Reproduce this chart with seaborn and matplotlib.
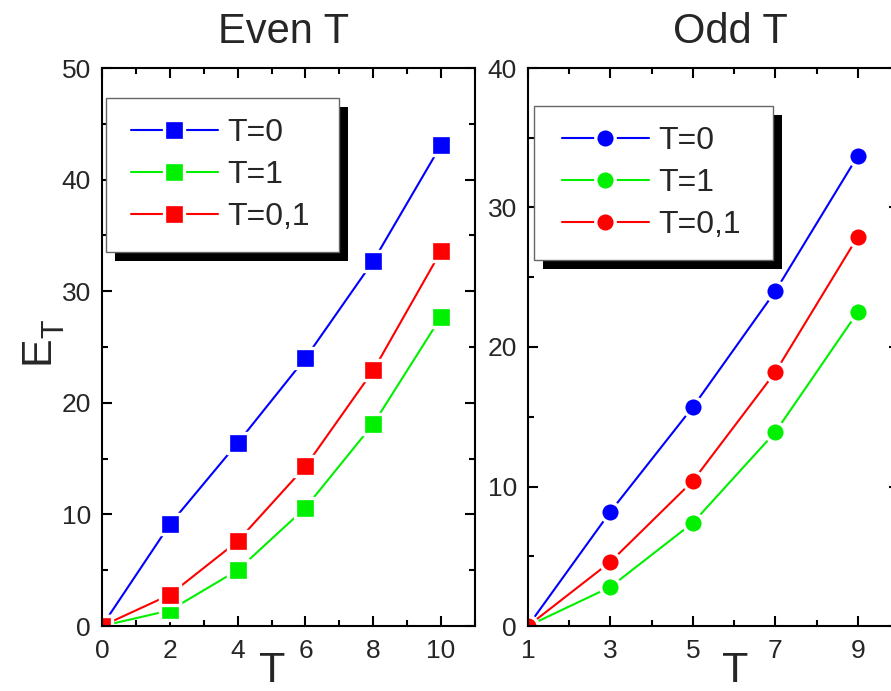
import matplotlib
matplotlib.use("Agg")
import matplotlib.pyplot as plt
from matplotlib.patches import Rectangle
from matplotlib.ticker import FixedLocator, MultipleLocator
import pandas as pd
import seaborn as sns

# ---- data -------------------------------------------------------------
series_labels = ["T=0", "T=1", "T=0,1"]
series_colors = ["#0000ff", "#00f000", "#ff0000"]

even_T = [0, 2, 4, 6, 8, 10]
even_E_T0 = [0.0, 9.1, 16.4, 24.0, 32.7, 43.1]
even_E_T1 = [0.0, 1.4, 5.0, 10.6, 18.1, 27.7]
even_E_T01 = [0.0, 2.8, 7.6, 14.3, 22.9, 33.6]

odd_T = [1, 3, 5, 7, 9]
odd_E_T0 = [0.0, 8.2, 15.7, 24.0, 33.7]
odd_E_T1 = [0.0, 2.8, 7.4, 13.9, 22.5]
odd_E_T01 = [0.0, 4.6, 10.4, 18.2, 27.9]

even_xticks = [0, 2, 4, 6, 8, 10]
even_yticks = [0, 10, 20, 30, 40, 50]
odd_xticks = [1, 3, 5, 7, 9]
odd_yticks = [0, 10, 20, 30, 40]

# ---- style ------------------------------------------------------------
sns.set_style("ticks")
plt.rcParams["font.family"] = ["Liberation Sans", "DejaVu Sans"]

W, H = 891, 691
fig = plt.figure(figsize=(W / 100, H / 100), dpi=100)
ax_even = fig.add_axes([102 / W, 65 / H, 373 / W, 558 / H])
ax_odd = fig.add_axes([528 / W, 65 / H, 371 / W, 558 / H])


def long_form(x, ys):
    rows = []
    for lab, y in zip(series_labels, ys):
        for xi, yi in zip(x, y):
            rows.append({"T": xi, "E": yi, "series": lab})
    return pd.DataFrame(rows)


def draw_panel(ax, df, marker, msize):
    sns.lineplot(
        data=df, x="T", y="E", hue="series", hue_order=series_labels,
        palette=dict(zip(series_labels, series_colors)),
        marker=marker, markersize=msize, markeredgecolor="white",
        markeredgewidth=2.4, linewidth=1.5, legend=False, ax=ax,
        estimator=None, sort=True,
    )


df_even = long_form(even_T, [even_E_T0, even_E_T1, even_E_T01])
df_odd = long_form(odd_T, [odd_E_T0, odd_E_T1, odd_E_T01])
draw_panel(ax_even, df_even, "s", 13.8)
draw_panel(ax_odd, df_odd, "o", 14.0)

ax_even.set_xlim(0, 11)
ax_even.set_ylim(0, 50)
ax_even.xaxis.set_major_locator(FixedLocator(even_xticks))
ax_even.xaxis.set_minor_locator(MultipleLocator(1))
ax_even.yaxis.set_major_locator(FixedLocator(even_yticks))
ax_even.yaxis.set_minor_locator(MultipleLocator(5))

ax_odd.set_xlim(1, 10)
ax_odd.set_ylim(0, 40)
ax_odd.xaxis.set_major_locator(FixedLocator(odd_xticks))
ax_odd.xaxis.set_minor_locator(MultipleLocator(1))
ax_odd.yaxis.set_major_locator(FixedLocator(odd_yticks))
ax_odd.yaxis.set_minor_locator(MultipleLocator(5))

for ax in (ax_even, ax_odd):
    for sp in ax.spines.values():
        sp.set_linewidth(1.5)
        sp.set_color("black")
        sp.set_visible(True)
    ax.tick_params(which="both", direction="in", top=True, right=True,
                   width=1.5, color="black")
    ax.tick_params(which="major", length=7)
    ax.tick_params(which="minor", length=4)
    ax.tick_params(axis="x", which="major", labelsize=19, pad=9)
    ax.tick_params(axis="y", which="major", labelsize=19, pad=8)
    ax.set_xlabel("T", fontsize=31, labelpad=0)
    ax.set_ylabel("")

ax_even.set_title("Even T", fontsize=30, pad=0, x=0.487, y=1.045)
ax_odd.set_title("Odd T", fontsize=30, pad=0, x=0.545, y=1.045)
ax_even.xaxis.set_label_coords(0.456, -0.0448)
ax_odd.xaxis.set_label_coords(0.558, -0.0448)

# vertical axis title: E with a lowered subscript T
fig.text(48 / W, 1 - 364 / H, "E", fontsize=31, rotation=90,
         rotation_mode="anchor", ha="left", va="baseline")
fig.text(63 / W, 1 - 338 / H, "T", fontsize=22, rotation=90,
         rotation_mode="anchor", ha="left", va="baseline")


def add_legend(ax, box, handle_left, rows_center):
    """Legend entries with a boxed frame and a solid offset shadow."""
    left, top, right, bottom = box
    # shadow and frame, given in figure pixels measured from the top-left
    for dx, fc, ec, z in ((9, "black", "none", 5.4), (0, "white", "#666666", 5.5)):
        ax.add_patch(Rectangle(((left + dx) / W, 1 - (bottom + dx) / H),
                               (right - left) / W, (bottom - top) / H,
                               transform=fig.transFigure, facecolor=fc,
                               edgecolor=ec, linewidth=1.0, clip_on=False,
                               zorder=z))
    handles = ax.get_lines()[:3]
    leg = ax.legend(
        handles=handles, labels=series_labels, loc="center left",
        bbox_to_anchor=(handle_left / W, 1 - rows_center / H),
        bbox_transform=fig.transFigure, borderaxespad=0, borderpad=0,
        fontsize=23, handlelength=2.72, handletextpad=0.28,
        labelspacing=0.37, frameon=False,
    )
    leg.set_zorder(6)
    return leg


add_legend(ax_even, (106, 98, 339, 252), 131, 175)
add_legend(ax_odd, (534, 106, 773, 260), 562, 183)

fig.savefig("out.png", dpi=100)
